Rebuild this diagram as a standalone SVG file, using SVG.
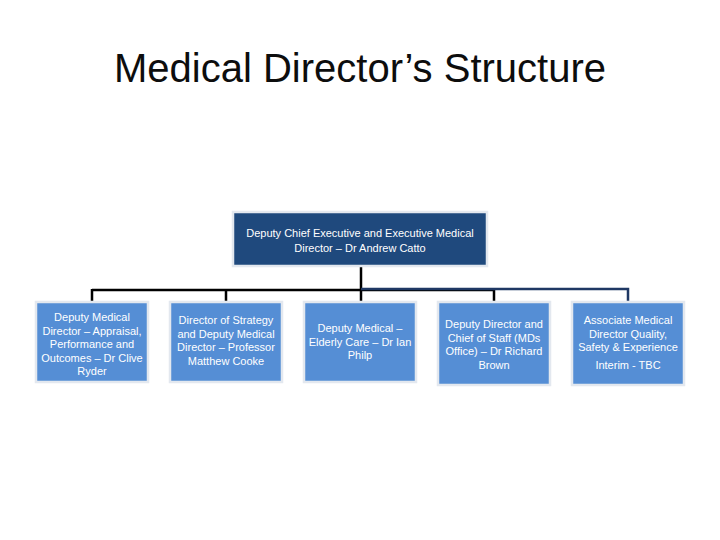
<svg xmlns="http://www.w3.org/2000/svg" width="720" height="540" viewBox="0 0 720 540">
<style>
.title{font-family:"Liberation Sans","Open Sans",sans-serif;font-size:40px;fill:#0d0d0d;text-anchor:middle}
.box{fill:#558ed5;stroke:#e3e8ef;stroke-width:2.5}
.top{fill:#1f497d;stroke:#e3e8ef;stroke-width:2.5}
.t{font-family:"Liberation Sans","Open Sans",sans-serif;font-size:11px;fill:#ffffff;text-anchor:middle}
.k{stroke:#000000;stroke-width:2.5;fill:none}
.n{stroke:#1f3864;stroke-width:2.5;fill:none}
</style>
<rect width="720" height="540" fill="#ffffff"/>
<text class="title" x="360" y="82">Medical Director’s Structure</text>
<g id="connectors">
<path class="k" d="M361,266 V302"/>
<path class="k" d="M92,290 H494"/>
<path class="k" d="M92,289 V302 M226,289 V302 M494,289 V302"/>
<path class="n" d="M361,289 H628 V302"/>
</g>
<g id="top">
<rect class="top" x="233" y="212" width="254" height="54"/>
<text class="t" x="360" y="237">Deputy Chief Executive and Executive Medical</text>
<text class="t" x="360" y="252">Director – Dr Andrew Catto</text>
</g>
<g id="n1">
<rect class="box" x="36" y="302" width="112" height="80"/>
<text class="t" x="92" y="321">Deputy Medical</text>
<text class="t" x="92" y="334.5">Director – Appraisal,</text>
<text class="t" x="92" y="348">Performance and</text>
<text class="t" x="92" y="361.5">Outcomes – Dr Clive</text>
<text class="t" x="92" y="375">Ryder</text>
</g>
<g id="n2">
<rect class="box" x="170" y="302" width="112" height="80"/>
<text class="t" x="226" y="324">Director of Strategy</text>
<text class="t" x="226" y="337.5">and Deputy Medical</text>
<text class="t" x="226" y="351">Director – Professor</text>
<text class="t" x="226" y="364.5">Matthew Cooke</text>
</g>
<g id="n3">
<rect class="box" x="304" y="302" width="112" height="80"/>
<text class="t" x="360" y="332">Deputy Medical –</text>
<text class="t" x="360" y="345.5">Elderly Care – Dr Ian</text>
<text class="t" x="360" y="359">Philp</text>
</g>
<g id="n4">
<rect class="box" x="438" y="302" width="112" height="83"/>
<text class="t" x="494" y="328">Deputy Director and</text>
<text class="t" x="494" y="341.5">Chief of Staff (MDs</text>
<text class="t" x="494" y="355">Office) – Dr Richard</text>
<text class="t" x="494" y="368.5">Brown</text>
</g>
<g id="n5">
<rect class="box" x="572" y="302" width="112" height="83"/>
<text class="t" x="628" y="324">Associate Medical</text>
<text class="t" x="628" y="337.5">Director Quality,</text>
<text class="t" x="628" y="351">Safety &amp; Experience</text>
<text class="t" x="628" y="368.5">Interim - TBC</text>
</g>
</svg>
